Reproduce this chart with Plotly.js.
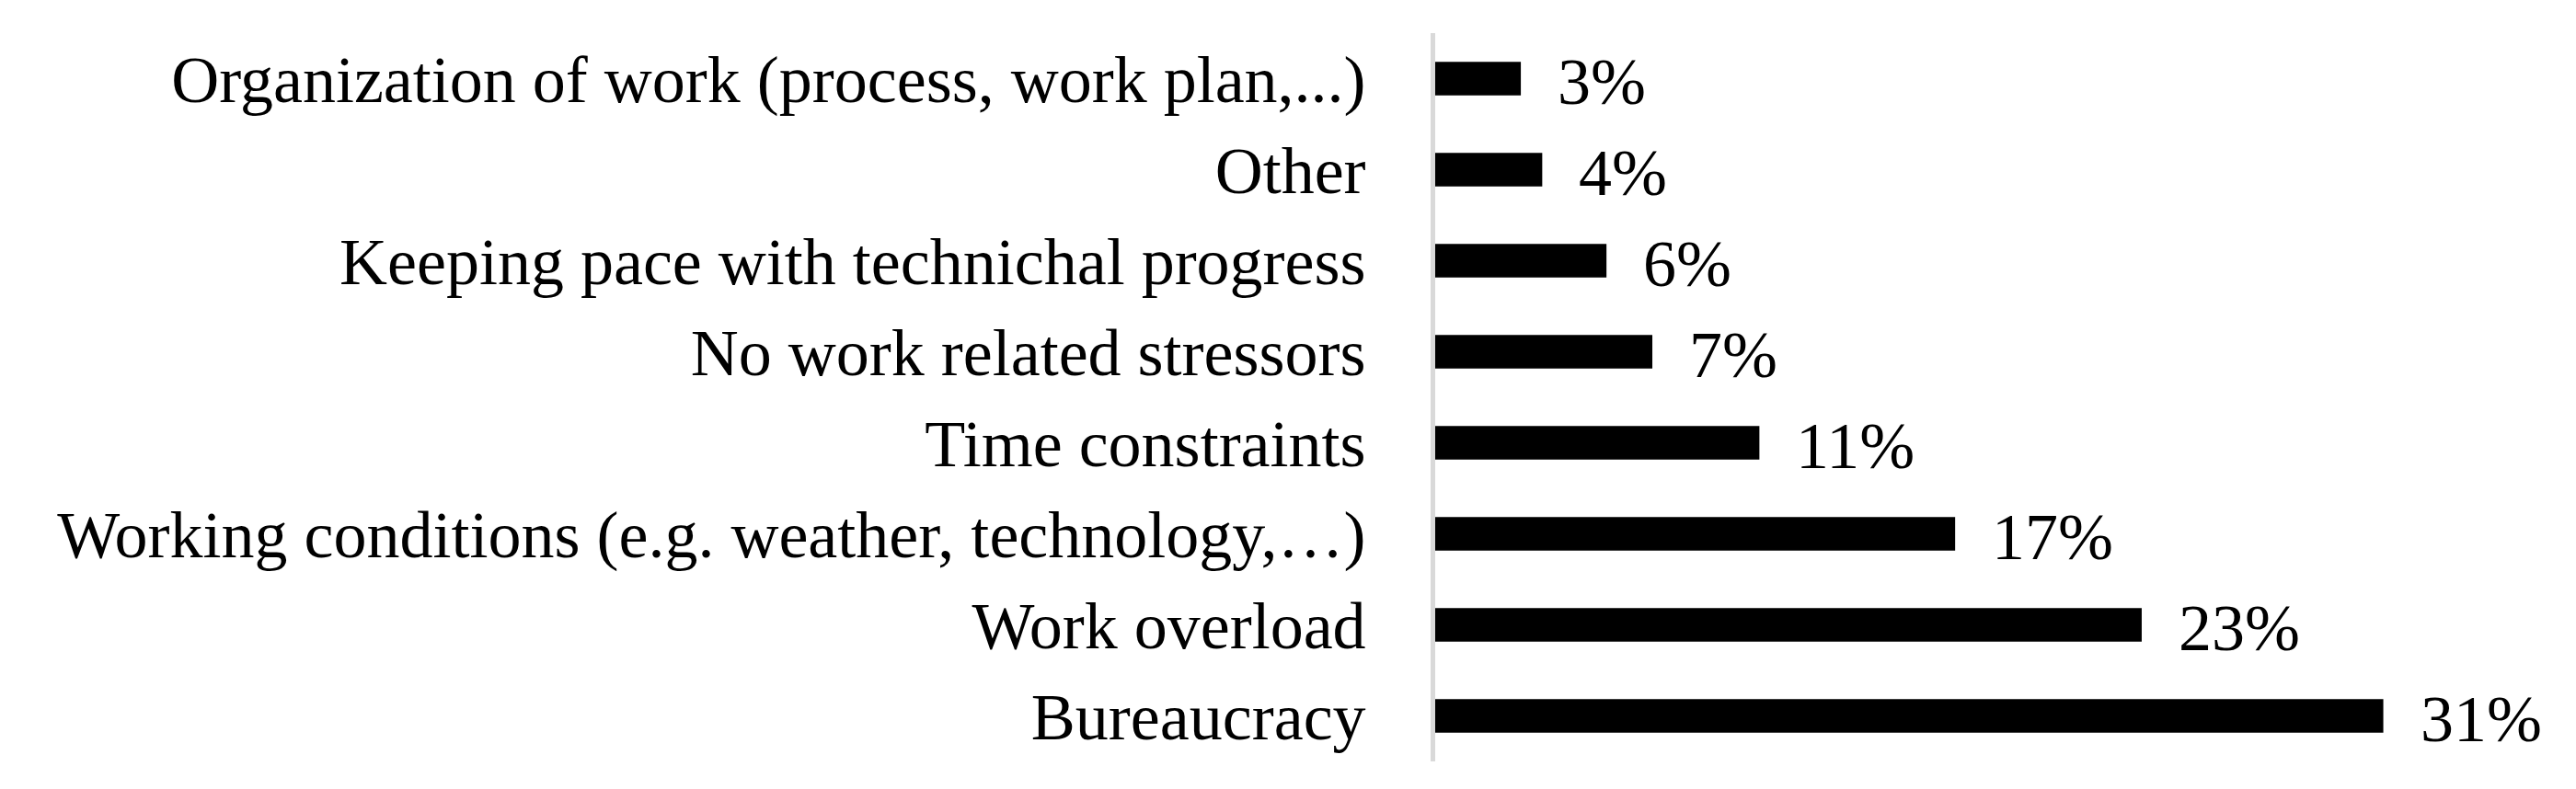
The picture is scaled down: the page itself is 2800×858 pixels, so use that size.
<!DOCTYPE html>
<html>
<head>
<meta charset="utf-8">
<script src="https://cdn.plot.ly/plotly-3.0.1.min.js"></script>
<style>
  html, body { margin: 0; padding: 0; background: #fff; }
  #chart { width: 2800px; height: 858px; }
</style>
</head>
<body>
<div id="chart"></div>
<script>
// categories top to bottom as in the picture
const categories = [
    "Organization of work (process, work plan,...)",
    "Other",
    "Keeping pace with technichal progress",
    "No work related stressors",
    "Time constraints",
    "Working conditions (e.g. weather, technology,\u2026)",
    "Work overload",
    "Bureaucracy"
];
// bar lengths (percent)
const values = [2.8, 3.5, 5.6, 7.1, 10.6, 17.0, 23.1, 31.0];
// printed labels
const labels = ["3%", "4%", "6%", "7%", "11%", "17%", "23%", "31%"];

const fontFam = '"Liberation Serif", "Times New Roman", serif';

const trace = {
    type: 'bar',
    orientation: 'h',
    x: values,
    y: categories,
    marker: { color: '#000000' },
    hoverinfo: 'none'
};

// value labels placed a bit right of the bar ends
const annotations = values.map((v, i) => ({
    x: v,
    y: categories[i],
    xref: 'x',
    yref: 'y',
    text: labels[i],
    showarrow: false,
    xanchor: 'left',
    xshift: 38,
    yshift: -3,
    font: { family: fontFam, size: 72, color: '#000' }
}));

const layout = {
    width: 2800,
    height: 858,
    margin: { l: 1560, r: 0, t: 36, b: 30 },
    paper_bgcolor: '#ffffff',
    plot_bgcolor: '#ffffff',
    showlegend: false,
    bargap: 0.63,
    xaxis: {
        range: [0, 37.3],
        showgrid: false,
        zeroline: false,
        showline: false,
        showticklabels: false,
        ticks: ''
    },
    yaxis: {
        autorange: 'reversed',
        showgrid: false,
        zeroline: false,
        showline: true,
        linecolor: '#d9d9d9',
        linewidth: 5,
        ticks: '',
        ticklabelstandoff: 56,
        tickfont: { family: fontFam, size: 72, color: '#000' }
    },
    annotations: annotations
};

Plotly.newPlot('chart', [trace], layout, { displayModeBar: false, staticPlot: true });
</script>
</body>
</html>
